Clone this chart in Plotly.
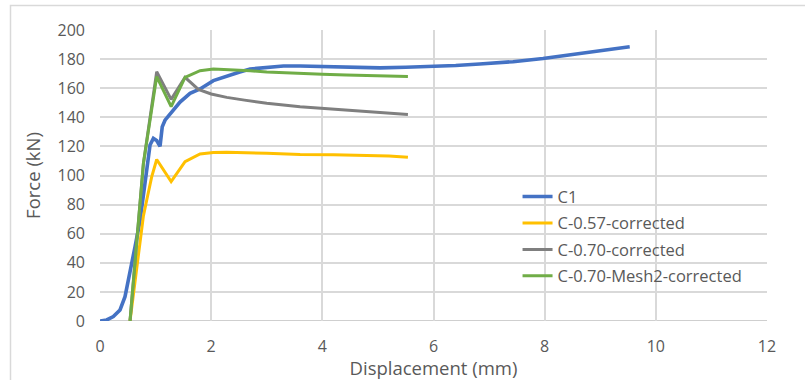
import plotly.graph_objects as go

# ---- data ----
c1_x = [0, 0.12, 0.24, 0.36, 0.45, 0.54, 0.63, 0.72, 0.78, 0.84, 0.9, 0.96, 1.02, 1.08, 1.12, 1.17,
        1.32, 1.44, 1.62, 1.8, 2.04, 2.28, 2.5, 2.7, 3.0, 3.3, 3.6, 4.0, 4.43, 5.04, 5.5, 5.99,
        6.4, 6.83, 7.43, 7.97, 8.63, 9.1, 9.53]
c1_y = [0, 0.7, 3, 7.6, 16.7, 33, 51, 69, 88, 106, 121, 125.5, 124, 120, 133.5, 138,
        145.5, 150.5, 156.5, 159.5, 165.2, 168.5, 171, 173.2, 174.5, 175.3, 175.3, 174.8, 174.2, 174.0, 174.4, 174.8,
        175.6, 176.6, 178.2, 180.4, 184, 186.3, 188.5]

c057_x = [0.54, 0.62, 0.7, 0.78, 0.84, 0.93, 1.02, 1.28, 1.53, 1.8, 2.04, 2.28, 3.0, 3.6, 4.2, 4.8, 5.2, 5.54]
c057_y = [0, 25, 48, 72, 83, 99, 111, 95.8, 109.5, 114.8, 115.8, 116, 115.3, 114.4, 114.2, 113.6, 113.4, 112.5]

c070_x = [0.54, 0.78, 1.02, 1.28, 1.53, 1.77, 2.0, 2.28, 2.6, 3.0, 3.6, 4.0, 4.5, 5.04, 5.54]
c070_y = [0, 108, 171.3, 152.3, 167.5, 159.2, 156, 153.7, 151.8, 149.6, 147.3, 146.2, 144.8, 143.3, 142]

c070m_x = [0.54, 0.78, 1.02, 1.28, 1.53, 1.8, 2.04, 2.4, 2.7, 3.0, 3.6, 4.0, 4.43, 5.0, 5.54]
c070m_y = [0, 108, 168, 147.3, 167.5, 172, 173.2, 172.8, 172, 171.2, 170, 169.6, 169, 168.5, 168]

x_ticks = [0, 2, 4, 6, 8, 10, 12]
y_ticks = [0, 20, 40, 60, 80, 100, 120, 140, 160, 180, 200]

FONT = "Open Sans"
TXT = "#595959"

fig = go.Figure()
fig.add_trace(go.Scatter(x=c1_x, y=c1_y, mode="lines", name="C1", legendgroup="a",
                         line=dict(color="#4472C4", width=3.6)))
fig.add_trace(go.Scatter(x=c057_x, y=c057_y, mode="lines", name="C-0.57-corrected", legendgroup="b",
                         line=dict(color="#FFC000", width=3)))
fig.add_trace(go.Scatter(x=c070_x, y=c070_y, mode="lines", name="C-0.70-corrected", legendgroup="c",
                         line=dict(color="#7F7F7F", width=3)))
fig.add_trace(go.Scatter(x=c070m_x, y=c070m_y, mode="lines", name="C-0.70-Mesh2-corrected", legendgroup="d",
                         line=dict(color="#70AD47", width=3)))

# outer chart border (light grey frame)
fig.add_shape(type="rect", xref="paper", yref="paper",
              x0=(10.5 - 100) / 667, x1=(806 - 100) / 667,
              y0=(321 - 382) / 291, y1=(321 - 5.5) / 291,
              line=dict(color="#D9D9D9", width=1.5), fillcolor="rgba(0,0,0,0)", layer="below")

fig.update_layout(
    width=805, height=380,
    margin=dict(l=100, r=38, t=30, b=59),
    paper_bgcolor="white", plot_bgcolor="white",
    font=dict(family=FONT, color=TXT, size=16),
    showlegend=True,
    legend=dict(x=0.626, y=0.487, xanchor="left", yanchor="top",
                bgcolor="rgba(255,255,255,0)", font=dict(size=16.5, color=TXT),
                traceorder="grouped", tracegroupgap=2),
    xaxis=dict(range=[0, 12], tickvals=x_ticks, ticktext=[str(v) for v in x_ticks],
               showgrid=True, gridcolor="#D9D9D9", gridwidth=1.5, automargin=False,
               zeroline=False, showline=False, ticks="", ticklabelstandoff=14,
               tickfont=dict(size=16, color=TXT),
               title=dict(text="Displacement (mm)", font=dict(size=18.5, color=TXT), standoff=4)),
    yaxis=dict(range=[0, 200], tickvals=y_ticks, ticktext=[str(v) for v in y_ticks],
               showgrid=True, gridcolor="#D9D9D9", gridwidth=1.5, automargin=False,
               zeroline=False, showline=False, ticks="", ticklabelstandoff=14,
               tickfont=dict(size=16, color=TXT),
               title=dict(text="Force (kN)", font=dict(size=18.5, color=TXT), standoff=12)),
)

# x-axis baseline (darker)
fig.add_shape(type="line", xref="paper", yref="y", x0=0, x1=1, y0=0, y1=0,
              line=dict(color="#BFBFBF", width=1.5), layer="below")

fig.write_html("out.html", config={"displayModeBar": False},
               post_script="document.body.style.margin='0';")
